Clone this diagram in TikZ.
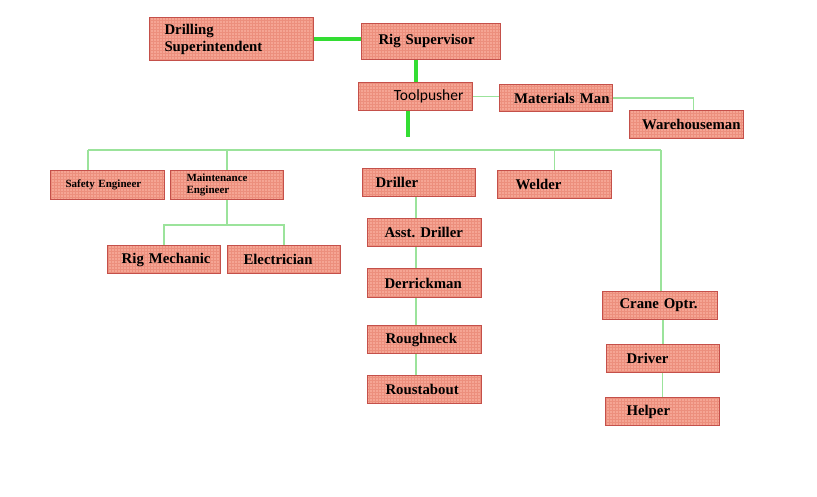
\documentclass[tikz,border=0pt]{standalone}
\usepackage{fontspec}
\setmainfont{Liberation Serif}
\newfontfamily\calfont{Carlito}
\usepackage{tikz}
\usetikzlibrary{patterns,calc}
\definecolor{boxfill}{HTML}{F5A594}
\definecolor{boxgrid}{HTML}{EC8F7D}
\definecolor{boxedge}{HTML}{C4504A}
\definecolor{linkgreen}{HTML}{9BE39B}
\definecolor{boldgreen}{HTML}{33DD33}
\hfuzz=20pt \hbadness=10000

\begin{document}
\begin{tikzpicture}[x=1pt,y=-1pt,
  box/.style={draw=boxedge,line width=1pt,preaction={fill=boxfill},pattern=grid,pattern color=boxgrid,
    anchor=north west,inner ysep=0pt,align=left,font=\fontsize{14.8}{17}\selectfont\bfseries},
  smallbox/.style={box,font=\fontsize{11}{12}\selectfont\bfseries},
  link/.style={linkgreen,line width=1.5pt},
  mainlink/.style={boldgreen,line width=4pt}]
\useasboundingbox (0,0) rectangle (817,497);
% top of the chart
\node[box,minimum height=43pt,inner xsep=15pt,text width=134pt] (dsup) at (149,17) {Drilling\\Superintendent};
\node[box,minimum height=36pt,inner xsep=17pt,text width=105pt] (rigsup) at (361,23) {Rig Supervisor};
\node[box,minimum height=28pt,inner xsep=9pt,text width=96pt,align=right,font=\fontsize{15.5}{17}\calfont] (tool) at (358,82) {Toolpusher};
\node[box,minimum height=27pt,inner xsep=3pt,text width=107pt,align=right] (mat) at (499,84) {Materials Man};
\node[box,minimum height=28pt,inner xsep=3pt,text width=108pt,align=right] (wh) at (629,110) {Warehouseman};
% second level
\node[smallbox,minimum height=29pt,inner xsep=15pt,text width=84pt] (safe) at (50,170) {Safety Engineer};
\node[smallbox,minimum height=29pt,inner xsep=16pt,text width=81pt] (maint) at (170,170) {Maintenance\\Engineer};
\node[box,minimum height=28pt,inner xsep=13pt,text width=87pt] (drill) at (362,168) {Driller};
\node[box,minimum height=28pt,inner xsep=18pt,text width=78pt] (weld) at (497,170) {Welder};
\node[box,minimum height=28pt,inner xsep=10pt,text width=93pt,align=right] (mech) at (107,245) {Rig Mechanic};
\node[box,minimum height=28pt,inner xsep=16pt,text width=81pt] (elec) at (227,245) {Electrician};
% drilling crew
\node[box,minimum height=28pt,inner xsep=17pt,text width=80pt] (asst) at (367,218) {Asst.~Driller};
\node[box,minimum height=29pt,inner xsep=17pt,text width=80pt] (derr) at (367,268) {Derrickman};
\node[box,minimum height=28pt,inner xsep=18pt,text width=78pt] (rough) at (367,325) {Roughneck};
\node[box,minimum height=28pt,inner xsep=18pt,text width=78pt] (roust) at (367,375) {Roustabout};
% crane crew
\node[box,minimum height=28pt,inner xsep=17pt,text width=81pt] (crane) at (602,291) {Crane Optr.};
\node[box,minimum height=28pt,inner xsep=20pt,text width=73pt] (driver) at (606,344) {Driver};
\node[box,minimum height=28pt,inner xsep=21pt,text width=72pt] (helper) at (605,397) {Helper};
\coordinate (busL) at (88,150);
\coordinate (busR) at (661,150);
\coordinate (tpend) at (408,137);
\draw[mainlink] (dsup.east) -- (dsup.east -| rigsup.west);
\draw[mainlink] (rigsup.south -| tool.north) -- (tool.north);
\draw[mainlink] (tool.south -| tpend) -- (tpend);
\draw[link] (tool.east) -- (tool.east -| mat.west);
\draw[link] (mat.east) -| ([xshift=7pt]wh.north);
\draw[link] (busL) -- (busR);
\draw[link] (busL) -- (busL |- safe.north);
\draw[link] (maint.north |- busL) -- (maint.north);
\draw[link] (weld.north |- busL) -- (weld.north);
\draw[link] (busR) -- (busR |- crane.north);
\draw[link] (maint.south) -- ++(0,25) coordinate (mfork);
\draw[link] (mech.north) |- (mfork) -| (elec.north);
\draw[link] ([xshift=-3pt]drill.south) -- ([xshift=-3pt]drill.south |- asst.north);
\draw[link] ([xshift=-3pt]drill.south |- asst.south) -- ([xshift=-3pt]drill.south |- derr.north);
\draw[link] ([xshift=-3pt]drill.south |- derr.south) -- ([xshift=-3pt]drill.south |- rough.north);
\draw[link] ([xshift=-3pt]drill.south |- rough.south) -- ([xshift=-3pt]drill.south |- roust.north);
\draw[link] (driver.north |- crane.south) -- (driver.north);
\draw[link] (helper.north |- driver.south) -- (helper.north);
\end{tikzpicture}
\end{document}
